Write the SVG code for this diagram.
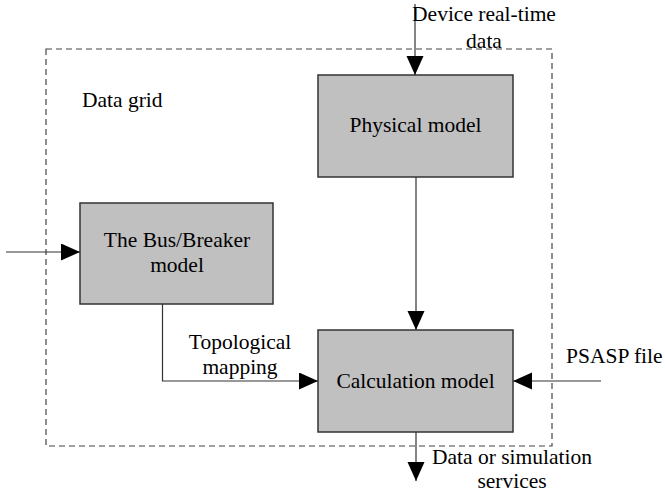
<svg xmlns="http://www.w3.org/2000/svg" width="665" height="494" viewBox="0 0 665 494">
<style>
.box{fill:#c0c0c0;stroke:#333;stroke-width:1.5}
.t{font-family:"Liberation Serif","Times New Roman",serif;font-size:21.5px;fill:#000}
.c{text-anchor:middle}
.ln{fill:none;stroke:#333;stroke-width:1.2}
.dash{fill:none;stroke:#444;stroke-width:1.2;stroke-dasharray:6 4}
</style>
<defs>
<marker id="ah" markerUnits="userSpaceOnUse" markerWidth="20" markerHeight="18" refX="19" refY="8.5" orient="auto">
<path d="M0,0 L19,8.5 L0,17 Z" fill="#000"/>
</marker>
</defs>
<g id="datagrid">
<rect class="dash" x="46" y="49" width="506" height="397"/>
<text class="t" x="82" y="107">Data grid</text>
</g>
<g id="physical">
<rect class="box" x="318" y="75" width="195" height="102"/>
<text class="t c" x="415.5" y="132">Physical model</text>
</g>
<g id="busbreaker">
<rect class="box" x="80" y="203" width="193" height="101"/>
<text class="t c" x="177" y="247">The Bus/Breaker</text>
<text class="t c" x="177" y="272">model</text>
</g>
<g id="calculation">
<rect class="box" x="318" y="330" width="195" height="102"/>
<text class="t c" x="415.5" y="388">Calculation model</text>
</g>
<g id="connectors">
<line class="ln" x1="415" y1="4" x2="415" y2="75" marker-end="url(#ah)"/>
<line class="ln" x1="416" y1="177" x2="416" y2="330" marker-end="url(#ah)"/>
<line class="ln" x1="6" y1="252" x2="80" y2="252" marker-end="url(#ah)"/>
<polyline class="ln" points="162.5,304 162.5,381 318,381" marker-end="url(#ah)"/>
<line class="ln" x1="601" y1="381" x2="513" y2="381" marker-end="url(#ah)"/>
<line class="ln" x1="416" y1="432" x2="416" y2="481" marker-end="url(#ah)"/>
</g>
<g id="labels">
<text class="t c" x="484" y="21">Device real-time</text>
<text class="t c" x="484" y="48">data</text>
<text class="t c" x="240" y="349">Topological</text>
<text class="t c" x="240" y="374">mapping</text>
<text class="t" x="566" y="363">PSASP file</text>
<text class="t" x="432" y="464">Data or simulation</text>
<text class="t c" x="512" y="488">services</text>
</g>
</svg>
